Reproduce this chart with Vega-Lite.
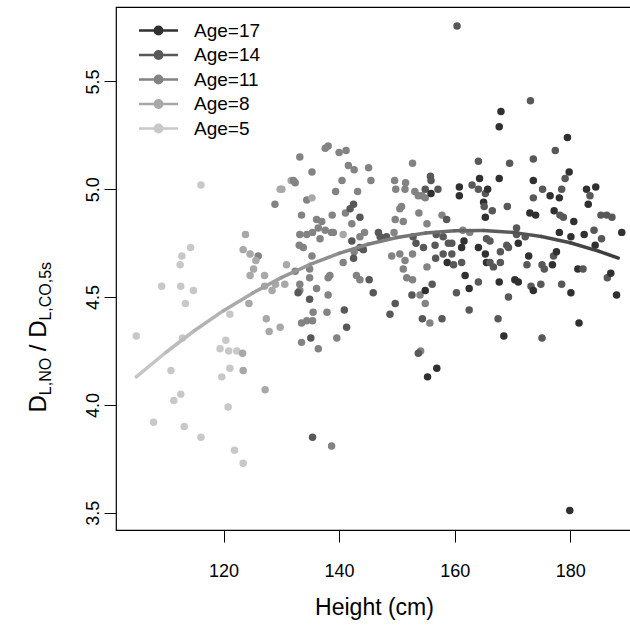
{
"$schema":"https://vega.github.io/schema/vega-lite/v6.json",
"width":516,"height":523,
"autosize":{"type":"none"},
"padding":{"left":116,"top":7,"right":0,"bottom":95},
"background":"white",
"config":{"font":"Liberation Sans","view":{"stroke":"black","strokeWidth":1.2},"axis":{"grid":false,"domain":false,"tickColor":"black","labelColor":"black","titleColor":"black","titleFontWeight":"normal","labelFont":"Liberation Sans","titleFont":"Liberation Sans"}},
"datasets":{
"pts":[
{"h":116.1,"v":5.02,"g":"Age=5"},{"h":114.3,"v":4.73,"g":"Age=5"},{"h":112.8,"v":4.69,"g":"Age=5"},{"h":112.5,"v":4.65,"g":"Age=5"},{"h":109.3,"v":4.55,"g":"Age=5"},{"h":112.6,"v":4.55,"g":"Age=5"},{"h":114.8,"v":4.53,"g":"Age=5"},{"h":113.4,"v":4.47,"g":"Age=5"},{"h":121.1,"v":4.42,"g":"Age=5"},{"h":104.9,"v":4.32,"g":"Age=5"},{"h":112.9,"v":4.31,"g":"Age=5"},{"h":120.4,"v":4.30,"g":"Age=5"},{"h":119.4,"v":4.26,"g":"Age=5"},{"h":120.9,"v":4.25,"g":"Age=5"},{"h":110.9,"v":4.16,"g":"Age=5"},{"h":121.1,"v":4.17,"g":"Age=5"},{"h":119.7,"v":4.13,"g":"Age=5"},{"h":112.6,"v":4.05,"g":"Age=5"},{"h":111.4,"v":4.02,"g":"Age=5"},{"h":120.8,"v":3.99,"g":"Age=5"},{"h":107.9,"v":3.92,"g":"Age=5"},{"h":113.2,"v":3.90,"g":"Age=5"},{"h":116.1,"v":3.85,"g":"Age=5"},{"h":121.9,"v":3.79,"g":"Age=5"},{"h":123.4,"v":3.73,"g":"Age=5"},{"h":122.3,"v":4.25,"g":"Age=5"},
{"h":129.8,"v":5.00,"g":"Age=8"},{"h":131.7,"v":5.04,"g":"Age=8"},{"h":128.9,"v":4.93,"g":"Age=11"},{"h":123.8,"v":4.79,"g":"Age=8"},{"h":123.4,"v":4.72,"g":"Age=8"},{"h":124.6,"v":4.70,"g":"Age=8"},{"h":126.0,"v":4.69,"g":"Age=11"},{"h":125.6,"v":4.67,"g":"Age=8"},{"h":125.2,"v":4.63,"g":"Age=8"},{"h":124.6,"v":4.60,"g":"Age=8"},{"h":127.1,"v":4.60,"g":"Age=8"},{"h":130.9,"v":4.65,"g":"Age=8"},{"h":127.1,"v":4.55,"g":"Age=8"},{"h":128.4,"v":4.53,"g":"Age=8"},{"h":130.6,"v":4.56,"g":"Age=8"},{"h":129.0,"v":4.56,"g":"Age=8"},{"h":124.4,"v":4.47,"g":"Age=8"},{"h":127.4,"v":4.40,"g":"Age=8"},{"h":127.9,"v":4.34,"g":"Age=8"},{"h":129.8,"v":4.36,"g":"Age=8"},{"h":123.3,"v":4.24,"g":"Age=8"},{"h":123.4,"v":4.16,"g":"Age=8"},{"h":127.2,"v":4.07,"g":"Age=8"},
{"h":138.1,"v":5.20,"g":"Age=11"},{"h":137.6,"v":5.19,"g":"Age=11"},{"h":140.0,"v":5.17,"g":"Age=11"},{"h":141.2,"v":5.18,"g":"Age=11"},{"h":133.2,"v":5.15,"g":"Age=11"},{"h":135.3,"v":5.08,"g":"Age=11"},{"h":141.6,"v":5.11,"g":"Age=11"},{"h":142.6,"v":5.09,"g":"Age=11"},{"h":145.1,"v":5.10,"g":"Age=11"},{"h":132.1,"v":5.04,"g":"Age=11"},{"h":132.4,"v":5.03,"g":"Age=11"},{"h":130.1,"v":5.00,"g":"Age=8"},{"h":140.5,"v":5.04,"g":"Age=11"},{"h":145.5,"v":5.04,"g":"Age=11"},{"h":139.4,"v":4.99,"g":"Age=11"},{"h":143.2,"v":4.99,"g":"Age=11"},{"h":134.4,"v":4.95,"g":"Age=11"},{"h":135.3,"v":4.96,"g":"Age=8"},{"h":142.5,"v":4.93,"g":"Age=14"},{"h":141.9,"v":4.91,"g":"Age=14"},{"h":141.1,"v":4.89,"g":"Age=11"},{"h":133.5,"v":4.88,"g":"Age=11"},{"h":138.8,"v":4.88,"g":"Age=11"},{"h":143.6,"v":4.87,"g":"Age=14"},{"h":136.1,"v":4.86,"g":"Age=11"},{"h":137.0,"v":4.85,"g":"Age=11"},{"h":136.4,"v":4.82,"g":"Age=11"},{"h":137.6,"v":4.81,"g":"Age=11"},{"h":136.7,"v":4.77,"g":"Age=11"},{"h":138.7,"v":4.80,"g":"Age=11"},{"h":139.0,"v":4.80,"g":"Age=11"},{"h":142.2,"v":4.84,"g":"Age=11"},{"h":140.7,"v":4.79,"g":"Age=8"},{"h":133.2,"v":4.79,"g":"Age=11"},{"h":134.4,"v":4.79,"g":"Age=11"},{"h":135.4,"v":4.80,"g":"Age=11"},{"h":143.6,"v":4.78,"g":"Age=11"},{"h":144.4,"v":4.80,"g":"Age=11"},{"h":146.8,"v":4.80,"g":"Age=14"},{"h":147.1,"v":4.78,"g":"Age=14"},{"h":148.2,"v":4.78,"g":"Age=14"},{"h":142.2,"v":4.76,"g":"Age=14"},{"h":133.1,"v":4.74,"g":"Age=11"},{"h":133.8,"v":4.73,"g":"Age=11"},{"h":135.3,"v":4.69,"g":"Age=11"},{"h":143.6,"v":4.73,"g":"Age=14"},{"h":144.2,"v":4.72,"g":"Age=14"},{"h":142.6,"v":4.71,"g":"Age=11"},{"h":132.4,"v":4.62,"g":"Age=11"},{"h":134.9,"v":4.63,"g":"Age=11"},{"h":140.7,"v":4.66,"g":"Age=11"},{"h":142.5,"v":4.68,"g":"Age=14"},{"h":133.2,"v":4.56,"g":"Age=11"},{"h":134.9,"v":4.59,"g":"Age=11"},{"h":138.4,"v":4.60,"g":"Age=11"},{"h":138.1,"v":4.59,"g":"Age=11"},{"h":143.0,"v":4.60,"g":"Age=11"},{"h":143.6,"v":4.58,"g":"Age=11"},{"h":145.2,"v":4.58,"g":"Age=14"},{"h":132.9,"v":4.52,"g":"Age=14"},{"h":133.2,"v":4.53,"g":"Age=11"},{"h":134.9,"v":4.49,"g":"Age=14"},{"h":136.1,"v":4.54,"g":"Age=11"},{"h":138.1,"v":4.51,"g":"Age=11"},{"h":145.9,"v":4.52,"g":"Age=14"},{"h":149.7,"v":4.47,"g":"Age=14"},{"h":135.5,"v":4.43,"g":"Age=11"},{"h":137.9,"v":4.43,"g":"Age=11"},{"h":140.9,"v":4.44,"g":"Age=14"},{"h":148.8,"v":4.42,"g":"Age=14"},{"h":133.5,"v":4.38,"g":"Age=11"},{"h":134.4,"v":4.39,"g":"Age=11"},{"h":135.4,"v":4.39,"g":"Age=11"},{"h":141.3,"v":4.36,"g":"Age=14"},{"h":139.6,"v":4.31,"g":"Age=11"},{"h":133.5,"v":4.29,"g":"Age=11"},{"h":135.1,"v":4.31,"g":"Age=14"},{"h":136.4,"v":4.26,"g":"Age=11"},{"h":135.4,"v":3.85,"g":"Age=14"},{"h":138.7,"v":3.81,"g":"Age=11"},
{"h":168.0,"v":5.36,"g":"Age=17"},{"h":167.7,"v":5.29,"g":"Age=17"},{"h":152.7,"v":5.12,"g":"Age=11"},{"h":164.1,"v":5.13,"g":"Age=14"},{"h":169.5,"v":5.12,"g":"Age=14"},{"h":149.6,"v":5.04,"g":"Age=11"},{"h":149.8,"v":5.00,"g":"Age=11"},{"h":151.5,"v":5.03,"g":"Age=11"},{"h":151.4,"v":5.00,"g":"Age=11"},{"h":155.8,"v":5.06,"g":"Age=14"},{"h":155.9,"v":5.04,"g":"Age=14"},{"h":153.1,"v":4.99,"g":"Age=11"},{"h":153.7,"v":4.97,"g":"Age=11"},{"h":154.3,"v":4.97,"g":"Age=11"},{"h":154.9,"v":4.96,"g":"Age=11"},{"h":154.9,"v":5.00,"g":"Age=14"},{"h":155.9,"v":4.98,"g":"Age=17"},{"h":157.1,"v":5.00,"g":"Age=14"},{"h":160.8,"v":5.01,"g":"Age=17"},{"h":160.8,"v":4.97,"g":"Age=17"},{"h":163.0,"v":5.02,"g":"Age=14"},{"h":164.1,"v":5.00,"g":"Age=14"},{"h":165.3,"v":4.98,"g":"Age=14"},{"h":165.7,"v":5.00,"g":"Age=17"},{"h":164.3,"v":5.05,"g":"Age=17"},{"h":167.7,"v":5.05,"g":"Age=17"},{"h":165.0,"v":4.94,"g":"Age=17"},{"h":165.1,"v":4.92,"g":"Age=14"},{"h":150.8,"v":4.92,"g":"Age=11"},{"h":150.5,"v":4.91,"g":"Age=11"},{"h":153.8,"v":4.89,"g":"Age=11"},{"h":157.8,"v":4.88,"g":"Age=11"},{"h":158.6,"v":4.86,"g":"Age=14"},{"h":165.3,"v":4.87,"g":"Age=17"},{"h":166.5,"v":4.90,"g":"Age=14"},{"h":169.1,"v":4.92,"g":"Age=14"},{"h":149.7,"v":4.86,"g":"Age=11"},{"h":151.1,"v":4.85,"g":"Age=11"},{"h":155.2,"v":4.84,"g":"Age=11"},{"h":149.5,"v":4.80,"g":"Age=11"},{"h":152.8,"v":4.78,"g":"Age=14"},{"h":153.3,"v":4.75,"g":"Age=14"},{"h":156.8,"v":4.79,"g":"Age=14"},{"h":158.0,"v":4.78,"g":"Age=14"},{"h":158.9,"v":4.75,"g":"Age=14"},{"h":159.5,"v":4.75,"g":"Age=14"},{"h":161.4,"v":4.81,"g":"Age=11"},{"h":162.6,"v":4.80,"g":"Age=11"},{"h":161.6,"v":4.76,"g":"Age=17"},{"h":161.2,"v":4.73,"g":"Age=17"},{"h":164.1,"v":4.73,"g":"Age=17"},{"h":165.5,"v":4.77,"g":"Age=14"},{"h":166.1,"v":4.76,"g":"Age=14"},{"h":169.0,"v":4.74,"g":"Age=14"},{"h":156.6,"v":4.74,"g":"Age=14"},{"h":149.1,"v":4.69,"g":"Age=11"},{"h":150.5,"v":4.70,"g":"Age=11"},{"h":151.4,"v":4.67,"g":"Age=11"},{"h":152.7,"v":4.70,"g":"Age=11"},{"h":154.6,"v":4.73,"g":"Age=14"},{"h":156.7,"v":4.68,"g":"Age=14"},{"h":158.0,"v":4.70,"g":"Age=14"},{"h":159.5,"v":4.70,"g":"Age=14"},{"h":158.7,"v":4.66,"g":"Age=17"},{"h":159.8,"v":4.65,"g":"Age=14"},{"h":161.2,"v":4.66,"g":"Age=14"},{"h":165.3,"v":4.70,"g":"Age=17"},{"h":165.5,"v":4.66,"g":"Age=17"},{"h":166.1,"v":4.66,"g":"Age=14"},{"h":166.7,"v":4.64,"g":"Age=14"},{"h":167.9,"v":4.71,"g":"Age=14"},{"h":167.9,"v":4.66,"g":"Age=14"},{"h":151.1,"v":4.63,"g":"Age=11"},{"h":151.7,"v":4.59,"g":"Age=11"},{"h":155.2,"v":4.64,"g":"Age=11"},{"h":152.7,"v":4.58,"g":"Age=11"},{"h":156.1,"v":4.56,"g":"Age=14"},{"h":161.8,"v":4.60,"g":"Age=17"},{"h":164.1,"v":4.57,"g":"Age=14"},{"h":162.5,"v":4.54,"g":"Age=17"},{"h":167.7,"v":4.57,"g":"Age=17"},{"h":152.6,"v":4.51,"g":"Age=14"},{"h":154.0,"v":4.51,"g":"Age=11"},{"h":154.9,"v":4.53,"g":"Age=17"},{"h":160.3,"v":4.52,"g":"Age=14"},
{"h":154.9,"v":4.47,"g":"Age=11"},{"h":154.4,"v":4.40,"g":"Age=14"},{"h":155.7,"v":4.38,"g":"Age=11"},{"h":157.8,"v":4.40,"g":"Age=14"},{"h":162.5,"v":4.44,"g":"Age=14"},{"h":169.3,"v":4.50,"g":"Age=14"},{"h":167.5,"v":4.40,"g":"Age=14"},{"h":168.5,"v":4.32,"g":"Age=17"},{"h":153.7,"v":4.24,"g":"Age=14"},{"h":154.1,"v":4.25,"g":"Age=11"},{"h":156.9,"v":4.17,"g":"Age=17"},{"h":155.3,"v":4.13,"g":"Age=17"},{"h":160.4,"v":5.757,"g":"Age=14"},
{"h":173.1,"v":5.41,"g":"Age=14"},{"h":179.5,"v":5.24,"g":"Age=17"},{"h":177.4,"v":5.18,"g":"Age=14"},{"h":173.6,"v":5.14,"g":"Age=14"},{"h":173.6,"v":5.04,"g":"Age=17"},{"h":179.8,"v":5.08,"g":"Age=17"},{"h":179.1,"v":5.05,"g":"Age=14"},{"h":175.2,"v":5.00,"g":"Age=14"},{"h":176.5,"v":4.97,"g":"Age=17"},{"h":178.5,"v":5.00,"g":"Age=14"},{"h":178.1,"v":4.96,"g":"Age=17"},{"h":173.6,"v":4.96,"g":"Age=14"},{"h":182.8,"v":5.00,"g":"Age=17"},{"h":183.4,"v":4.97,"g":"Age=14"},{"h":184.4,"v":5.01,"g":"Age=17"},{"h":183.1,"v":4.93,"g":"Age=17"},{"h":173.0,"v":4.89,"g":"Age=17"},{"h":174.0,"v":4.88,"g":"Age=17"},{"h":177.2,"v":4.90,"g":"Age=17"},{"h":178.2,"v":4.88,"g":"Age=14"},{"h":178.8,"v":4.87,"g":"Age=14"},{"h":180.6,"v":4.85,"g":"Age=17"},{"h":185.3,"v":4.88,"g":"Age=14"},{"h":186.3,"v":4.88,"g":"Age=14"},{"h":187.2,"v":4.87,"g":"Age=14"},{"h":188.9,"v":4.80,"g":"Age=17"},{"h":170.7,"v":4.82,"g":"Age=14"},{"h":170.7,"v":4.79,"g":"Age=14"},{"h":172.2,"v":4.78,"g":"Age=14"},{"h":178.1,"v":4.80,"g":"Age=17"},{"h":180.1,"v":4.78,"g":"Age=17"},{"h":182.4,"v":4.79,"g":"Age=17"},{"h":184.1,"v":4.81,"g":"Age=14"},{"h":185.4,"v":4.77,"g":"Age=14"},{"h":184.3,"v":4.74,"g":"Age=17"},{"h":169.3,"v":4.73,"g":"Age=14"},{"h":171.0,"v":4.75,"g":"Age=17"},{"h":172.8,"v":4.69,"g":"Age=17"},{"h":177.1,"v":4.69,"g":"Age=14"},{"h":177.6,"v":4.71,"g":"Age=17"},{"h":172.5,"v":4.65,"g":"Age=14"},{"h":175.1,"v":4.65,"g":"Age=14"},{"h":175.5,"v":4.63,"g":"Age=14"},{"h":176.9,"v":4.65,"g":"Age=17"},{"h":181.3,"v":4.63,"g":"Age=17"},{"h":182.2,"v":4.63,"g":"Age=14"},{"h":186.4,"v":4.59,"g":"Age=14"},{"h":187.0,"v":4.61,"g":"Age=17"},{"h":170.4,"v":4.58,"g":"Age=17"},{"h":171.0,"v":4.57,"g":"Age=17"},{"h":173.2,"v":4.55,"g":"Age=14"},{"h":174.9,"v":4.56,"g":"Age=14"},{"h":178.5,"v":4.56,"g":"Age=14"},{"h":173.6,"v":4.53,"g":"Age=17"},{"h":180.1,"v":4.52,"g":"Age=17"},{"h":188.0,"v":4.51,"g":"Age=17"},{"h":181.5,"v":4.38,"g":"Age=17"},{"h":175.1,"v":4.31,"g":"Age=14"},{"h":179.9,"v":3.51,"g":"Age=17"}
],
"curve":[
{"h1":104.9,"v1":4.130,"h2":110,"v2":4.243,"a":5.4},
{"h1":110,"v1":4.243,"h2":115,"v2":4.345,"a":6.1},
{"h1":115,"v1":4.345,"h2":120,"v2":4.437,"a":6.8},
{"h1":120,"v1":4.437,"h2":125,"v2":4.518,"a":7.5},
{"h1":125,"v1":4.518,"h2":130,"v2":4.590,"a":8.2},
{"h1":130,"v1":4.590,"h2":135,"v2":4.652,"a":8.9},
{"h1":135,"v1":4.652,"h2":140,"v2":4.703,"a":9.6},
{"h1":140,"v1":4.703,"h2":145,"v2":4.745,"a":10.4},
{"h1":145,"v1":4.745,"h2":150,"v2":4.776,"a":11.1},
{"h1":150,"v1":4.776,"h2":155,"v2":4.797,"a":11.8},
{"h1":155,"v1":4.797,"h2":160,"v2":4.808,"a":12.5},
{"h1":160,"v1":4.808,"h2":165,"v2":4.809,"a":13.2},
{"h1":165,"v1":4.809,"h2":170,"v2":4.800,"a":14.0},
{"h1":170,"v1":4.800,"h2":175,"v2":4.781,"a":14.7},
{"h1":175,"v1":4.781,"h2":180,"v2":4.752,"a":15.4},
{"h1":180,"v1":4.752,"h2":185,"v2":4.712,"a":16.1},
{"h1":185,"v1":4.712,"h2":188.3,"v2":4.681,"a":16.7}
]},
"layer":[
{"data":{"name":"pts"},
 "transform":[{"filter":{"field":"g","oneOf":["Age=5","Age=8","Age=11"]}}],
 "mark":{"type":"circle","size":56,"opacity":1},
 "encoding":{
  "x":{"field":"h","type":"quantitative","scale":{"domain":[101.4,190.67],"nice":false,"zero":false},
   "axis":{"values":[120,140,160,180],"tickSize":12,"labelPadding":20,"labelFontSize":18,"title":"Height (cm)","titleFontSize":23,"titleX":258,"titleY":84,"titleBaseline":"alphabetic","titleAlign":"center","titleAnchor":null}},
  "y":{"field":"v","type":"quantitative","scale":{"domain":[3.42,5.845],"nice":false,"zero":false},
   "axis":{"orient":"left","values":[3.5,4,4.5,5,5.5],"format":".1f","tickSize":12,"labelAngle":270,"labelAlign":"center","labelBaseline":"bottom","labelPadding":2,"labelFontSize":18,"title":"D","titleFontSize":24,"titleAngle":270,"titleAlign":"left","titleBaseline":"alphabetic","titleX":-71,"titleY":405}},
  "color":{"field":"g","type":"nominal","scale":{"domain":["Age=17","Age=14","Age=11","Age=8","Age=5"],"range":["#303030","#585858","#838383","#a8a8a8","#c8c8c8"]},
   "legend":{"orient":"none","legendX":33,"legendY":14,"title":null,"padding":0,"symbolType":"M-3,0H3M-0.57,0A0.57,0.57 0 1,0 0.57,0A0.57,0.57 0 1,0 -0.57,0Z","symbolSize":169,"symbolStrokeWidth":2.5,"symbolOpacity":1,"labelFontSize":19,"labelOffset":26,"rowPadding":4.5,"labelColor":"black","encode":{"symbols":{"update":{"stroke":{"scale":"color","field":"value"}}}}}}
 }},
{"data":{"name":"pts"},
 "transform":[{"filter":{"field":"g","oneOf":["Age=14","Age=17"]}}],
 "mark":{"type":"circle","size":56,"opacity":1},
 "encoding":{
  "x":{"field":"h","type":"quantitative","scale":{"domain":[101.4,190.67],"nice":false,"zero":false}},
  "y":{"field":"v","type":"quantitative","scale":{"domain":[3.42,5.845],"nice":false,"zero":false},
   "axis":{"orient":"left","labels":false,"ticks":false,"domain":false,"grid":false,"title":"L,NO","titleFontSize":16,"titleAngle":270,"titleAlign":"left","titleBaseline":"alphabetic","titleX":-66,"titleY":387.7}},
  "color":{"field":"g","type":"nominal","scale":{"domain":["Age=17","Age=14","Age=11","Age=8","Age=5"],"range":["#303030","#585858","#838383","#a8a8a8","#c8c8c8"]}}
 }},
{"data":{"name":"curve"},
 "transform":[{"filter":"datum.h1 < 150"}],
 "mark":{"type":"rule","strokeWidth":3.5,"strokeCap":"round"},
 "encoding":{
  "x":{"field":"h1","type":"quantitative","scale":{"domain":[101.4,190.67],"nice":false,"zero":false}},
  "x2":{"field":"h2"},
  "y":{"field":"v1","type":"quantitative","scale":{"domain":[3.42,5.845],"nice":false,"zero":false},
   "axis":{"orient":"left","labels":false,"ticks":false,"domain":false,"grid":false,"title":"/ D","titleFontSize":24,"titleAngle":270,"titleAlign":"left","titleBaseline":"alphabetic","titleX":-71,"titleY":343.7}},
  "y2":{"field":"v2"},
  "stroke":{"field":"a","type":"quantitative","scale":{"domain":[5,17],"range":["#cacaca","#3a3a3a"]},"legend":null}
 }},
{"data":{"name":"curve"},
 "transform":[{"filter":"datum.h1 >= 150"}],
 "mark":{"type":"rule","strokeWidth":3.5,"strokeCap":"round"},
 "encoding":{
  "x":{"field":"h1","type":"quantitative","scale":{"domain":[101.4,190.67],"nice":false,"zero":false}},
  "x2":{"field":"h2"},
  "y":{"field":"v1","type":"quantitative","scale":{"domain":[3.42,5.845],"nice":false,"zero":false},
   "axis":{"orient":"left","labels":false,"ticks":false,"domain":false,"grid":false,"title":"L,CO,5s","titleFontSize":16,"titleAngle":270,"titleAlign":"left","titleBaseline":"alphabetic","titleX":-66,"titleY":313.1}},
  "y2":{"field":"v2"},
  "stroke":{"field":"a","type":"quantitative","scale":{"domain":[5,17],"range":["#cacaca","#3a3a3a"]},"legend":null}
 }}
],
"resolve":{"axis":{"y":"independent"}}
}
